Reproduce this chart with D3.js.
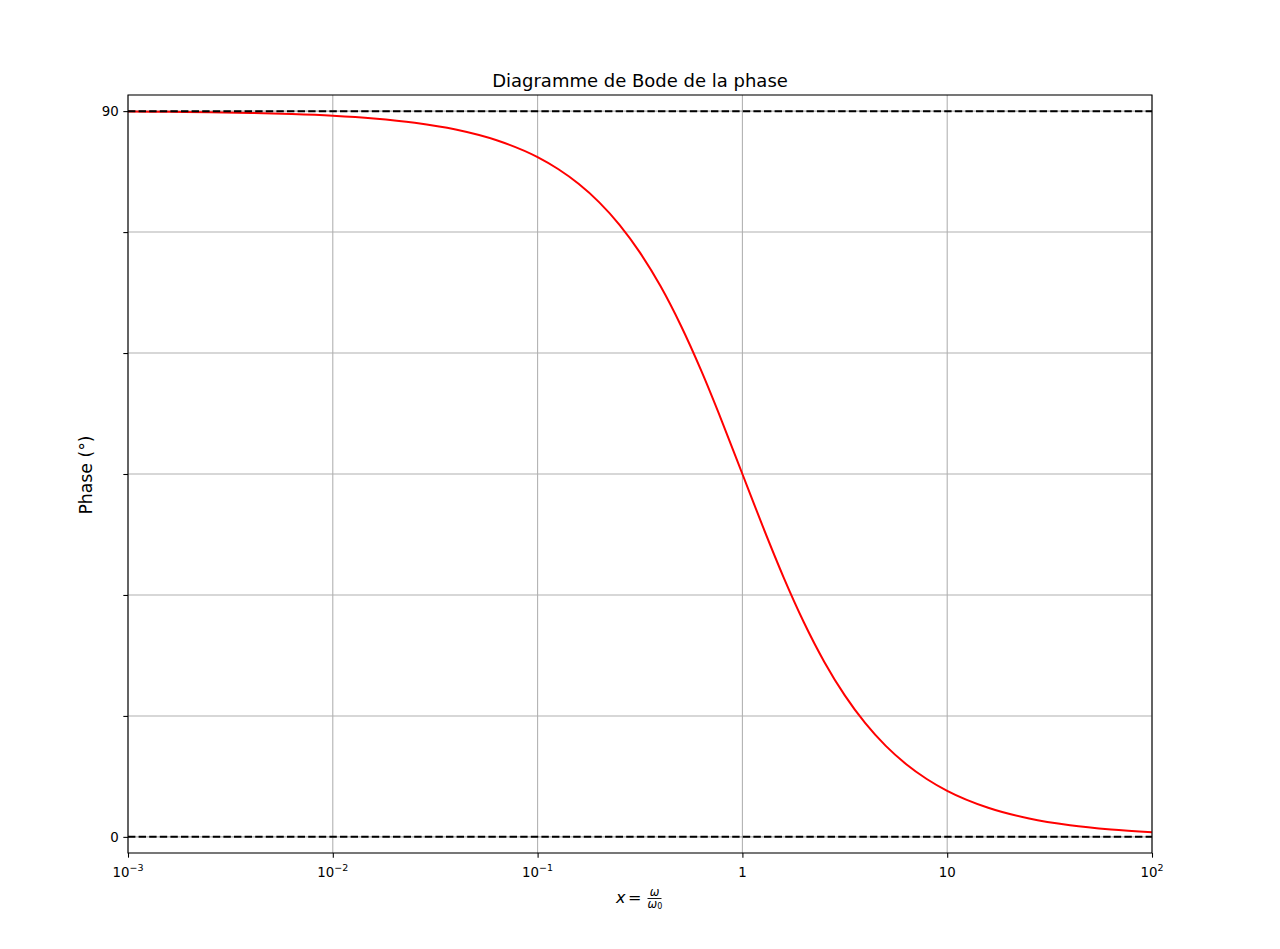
<!DOCTYPE html>
<html>
<head>
<meta charset="utf-8">
<script src="https://cdn.jsdelivr.net/npm/d3@7"></script>
<style>
html,body{margin:0;padding:0;background:#fff;}
svg{display:block;font-family:"DejaVu Sans",sans-serif;}
</style>
</head>
<body>
<svg id="chart" width="1280" height="949"></svg>
<script>
// Data: x = omega/omega0 and phase in degrees
const xValues = [0.001, 0.001585, 0.002512, 0.003981, 0.00631, 0.01, 0.01585, 0.02512, 0.03981, 0.0631,
  0.1, 0.1259, 0.1585, 0.1995, 0.2512, 0.3162, 0.3981, 0.5012, 0.631, 0.7943,
  1, 1.259, 1.585, 1.995, 2.512, 3.162, 3.981, 5.012, 6.31, 7.943,
  10, 15.85, 25.12, 39.81, 63.1, 100];
const phaseValues = [89.94, 89.91, 89.86, 89.77, 89.64, 89.43, 89.09, 88.56, 87.72, 86.39,
  84.29, 82.82, 80.99, 78.72, 75.90, 72.45, 68.30, 63.38, 57.75, 51.54,
  45.00, 38.46, 32.25, 26.62, 21.70, 17.55, 14.10, 11.28, 9.01, 7.18,
  5.71, 3.61, 2.28, 1.44, 0.91, 0.57];
const refLines = [0, 90];
const xTicks = [0.001, 0.01, 0.1, 1, 10, 100];
const xTickLabels = [["10","\u22123"],["10","\u22122"],["10","\u22121"],["1",""],["10",""],["10","2"]];
const yTicks = [0, 15, 30, 45, 60, 75, 90];
const yTickLabels = ["0", "", "", "", "", "", "90"];

const svg = d3.select("#chart");
const L = 128, R = 1152, T = 95, B = 853;
const x = d3.scaleLog().domain([1e-3, 1e2]).range([L, R]);
const y = d3.scaleLinear().domain([-2, 92]).range([B, T]);

// grid
const grid = svg.append("g");
grid.selectAll("line.gx").data(xTicks).enter().append("line")
  .attr("x1", d => x(d)).attr("x2", d => x(d)).attr("y1", T).attr("y2", B)
  .attr("stroke", "#b0b0b0").attr("stroke-width", 1.07);
grid.selectAll("line.gy").data(yTicks).enter().append("line")
  .attr("x1", L).attr("x2", R).attr("y1", d => y(d)).attr("y2", d => y(d))
  .attr("stroke", "#b0b0b0").attr("stroke-width", 1.07);

// curve
const pts = xValues.map((v, i) => [v, phaseValues[i]]);
const line = d3.line().x(d => x(d[0])).y(d => y(d[1])).curve(d3.curveMonotoneX);
svg.append("path").datum(pts).attr("d", line)
  .attr("fill", "none").attr("stroke", "#ff0000").attr("stroke-width", 2);

// dashed reference lines
svg.selectAll("line.ref").data(refLines).enter().append("line")
  .attr("x1", L).attr("x2", R).attr("y1", d => y(d)).attr("y2", d => y(d))
  .attr("stroke", "#000").attr("stroke-width", 2).attr("stroke-dasharray", "7.4,3.2");

// frame
svg.append("rect").attr("x", L).attr("y", T).attr("width", R - L).attr("height", B - T)
  .attr("fill", "none").attr("stroke", "#000").attr("stroke-width", 1.07);

// x axis
const xAxis = d3.axisBottom(x).tickValues(xTicks).tickSize(4.67).tickPadding(4.67).tickFormat("");
const gx = svg.append("g").attr("transform", `translate(0,${B})`).call(xAxis);
gx.select(".domain").remove();
gx.selectAll(".tick line").attr("stroke", "#000").attr("stroke-width", 1.07);
xTicks.forEach((t, i) => {
  const [base, sup] = xTickLabels[i];
  const txt = svg.append("text").attr("x", x(t)).attr("y", 877)
    .attr("text-anchor", "middle").attr("font-size", "13.33px").attr("fill", "#000");
  txt.append("tspan").text(base);
  if (sup) txt.append("tspan").attr("dy", -6).attr("font-size", "9.5px").text(sup);
});

// y axis
const yAxis = d3.axisLeft(y).tickValues(yTicks).tickSize(4.67).tickPadding(4.67)
  .tickFormat((d, i) => yTickLabels[i]);
const gy = svg.append("g").attr("transform", `translate(${L},0)`).call(yAxis);
gy.select(".domain").remove();
gy.selectAll(".tick line").attr("stroke", "#000").attr("stroke-width", 1.07);
gy.selectAll(".tick text").attr("font-size", "13.33px").attr("font-family", "DejaVu Sans").attr("fill", "#000");

// title
svg.append("text").attr("x", 640).attr("y", 87).attr("text-anchor", "middle")
  .attr("font-size", "18px").text("Diagramme de Bode de la phase");

// y label
svg.append("text").attr("transform", "translate(92,475) rotate(-90)")
  .attr("text-anchor", "middle").attr("font-size", "17.3px").text("Phase (\u00b0)");

// x label: x = ω/ω0
const xl = svg.append("g").attr("font-size", "16px");
xl.append("text").attr("x", 616).attr("y", 903)
  .attr("font-style", "italic").text("x");
xl.append("text").attr("x", 628).attr("y", 903).text("=");
xl.append("text").attr("x", 654.5).attr("y", 895.5).attr("text-anchor", "middle")
  .attr("font-size", "11.5px").attr("font-style", "italic").text("\u03c9");
xl.append("line").attr("x1", 647.5).attr("x2", 661.5).attr("y1", 898.5).attr("y2", 898.5)
  .attr("stroke", "#000").attr("stroke-width", 0.9);
const den = xl.append("text").attr("x", 647.5).attr("y", 907.5)
  .attr("font-size", "11.5px").attr("font-style", "italic");
den.append("tspan").text("\u03c9");
den.append("tspan").attr("dy", 1.5).attr("font-size", "8px").attr("font-style", "normal").text("0");
</script>
</body>
</html>
